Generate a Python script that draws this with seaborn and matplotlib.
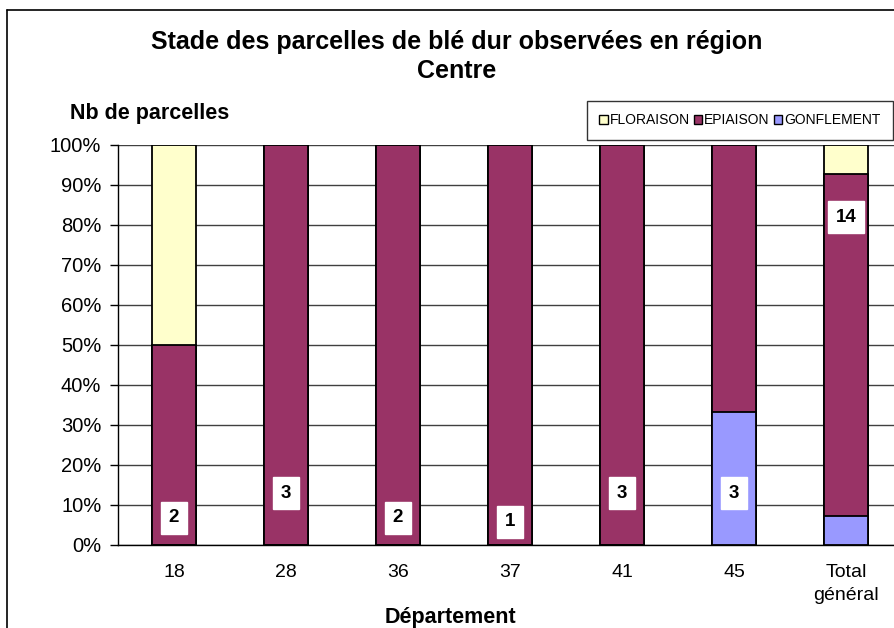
import matplotlib
matplotlib.use("Agg")
import matplotlib.pyplot as plt
import numpy as np
import pandas as pd
import seaborn as sns
from matplotlib.patches import Patch

# Counts of observed plots per stage and department
departements = ["18", "28", "36", "37", "41", "45", "Total\ngénéral"]
floraison = [1, 0, 0, 0, 0, 0, 1]
epiaison = [1, 3, 2, 1, 3, 2, 12]
gonflement = [0, 0, 0, 0, 0, 1, 1]
# label heights (percent) as they sit in the original chart
label_y = [6.75, 13, 6.75, 5.75, 13, 13, 82]

COL_FLO = "#FFFFCC"
COL_EPI = "#993366"
COL_GON = "#9999FF"

df = pd.DataFrame({"dep": departements, "flo": floraison, "epi": epiaison, "gon": gonflement})
df["total"] = df["flo"] + df["epi"] + df["gon"]
df["gon_pct"] = df["gon"] / df["total"] * 100
df["epi_cum"] = (df["gon"] + df["epi"]) / df["total"] * 100
df["flo_cum"] = 100.0

sns.set_theme(style="white")
plt.rcParams["font.family"] = ["Liberation Sans", "DejaVu Sans"]
plt.rcParams.update({"text.color": "black", "axes.labelcolor": "black",
                     "xtick.color": "black", "ytick.color": "black"})

fig = plt.figure(figsize=(8.95, 6.28), dpi=100)
ax = fig.add_axes([118 / 895, 83 / 628, 784 / 895, 400 / 628])

# cumulative layers drawn on top of each other to get a stacked 100% chart
for col, color in [("flo_cum", COL_FLO), ("epi_cum", COL_EPI), ("gon_pct", COL_GON)]:
    sns.barplot(data=df, x="dep", y=col, color=color, saturation=1, width=0.4,
                edgecolor="black", linewidth=1.3, ax=ax, zorder=3)

for i, (n, y) in enumerate(zip(df["total"], label_y)):
    ax.text(i, y, str(n), ha="center", va="center", fontsize=13.5, weight="bold", zorder=5,
            bbox=dict(boxstyle="square,pad=0.42", facecolor="white", edgecolor="white"))

ax.set_xlim(-0.5, 6.5)
ax.set_ylim(0, 100)
ax.set_yticks(np.arange(0, 101, 10))
ax.set_yticklabels([f"{v}%" for v in range(0, 101, 10)], fontsize=14.5)
ax.grid(axis="y", color="#404040", linewidth=1, zorder=0)
ax.set_axisbelow(True)
ax.set_xticks(range(len(departements)))
ax.set_xticklabels(departements, fontsize=14, linespacing=1.4)
ax.set_xticks(np.arange(-0.5, 7, 1), minor=True)
ax.tick_params(axis="x", which="major", length=0, pad=14)
ax.tick_params(axis="x", which="minor", length=6, width=1, color="black", direction="out")
ax.tick_params(axis="y", length=6, width=1, color="black", direction="out", left=True, pad=6)
ax.set_xlabel("Département", fontsize=15.5, weight="bold")
ax.xaxis.set_label_coords((450 - 118) / 784, -(618 - 545) / 400)
ax.xaxis.label.set_va("center")
ax.set_ylabel("")
for side in ["top", "right"]:
    ax.spines[side].set_visible(False)
for side in ["left", "bottom"]:
    ax.spines[side].set_color("black")
    ax.spines[side].set_linewidth(1)

fig.text(457 / 895, 1 - 42 / 628, "Stade des parcelles de blé dur observées en région",
         ha="center", va="center", fontsize=18, weight="bold")
fig.text(457 / 895, 1 - 71 / 628, "Centre", ha="center", va="center", fontsize=18, weight="bold")
fig.text(70 / 895, 1 - 113 / 628, "Nb de parcelles", ha="left", va="center", fontsize=15.5, weight="bold")

handles = [Patch(facecolor=c, edgecolor="black", label=l)
           for c, l in [(COL_FLO, "FLORAISON"), (COL_EPI, "EPIAISON"), (COL_GON, "GONFLEMENT")]]
leg = fig.legend(handles=handles, loc="center", bbox_to_anchor=(740 / 895, 1 - 120 / 628),
                 ncol=3, fontsize=10, frameon=True, fancybox=False, edgecolor="black",
                 handlelength=0.6, handleheight=0.6, handletextpad=0.15, columnspacing=0.3,
                 borderpad=0.9, borderaxespad=0)
leg.get_frame().set_linewidth(1)

# outer chart frame (only top and left edges are visible in the crop)
fig.add_artist(plt.Line2D([7 / 895, 1], [1 - 10 / 628] * 2, color="black", linewidth=1.2))
fig.add_artist(plt.Line2D([7 / 895] * 2, [0, 1 - 10 / 628], color="black", linewidth=1.2))

fig.savefig("out.png", dpi=100)
